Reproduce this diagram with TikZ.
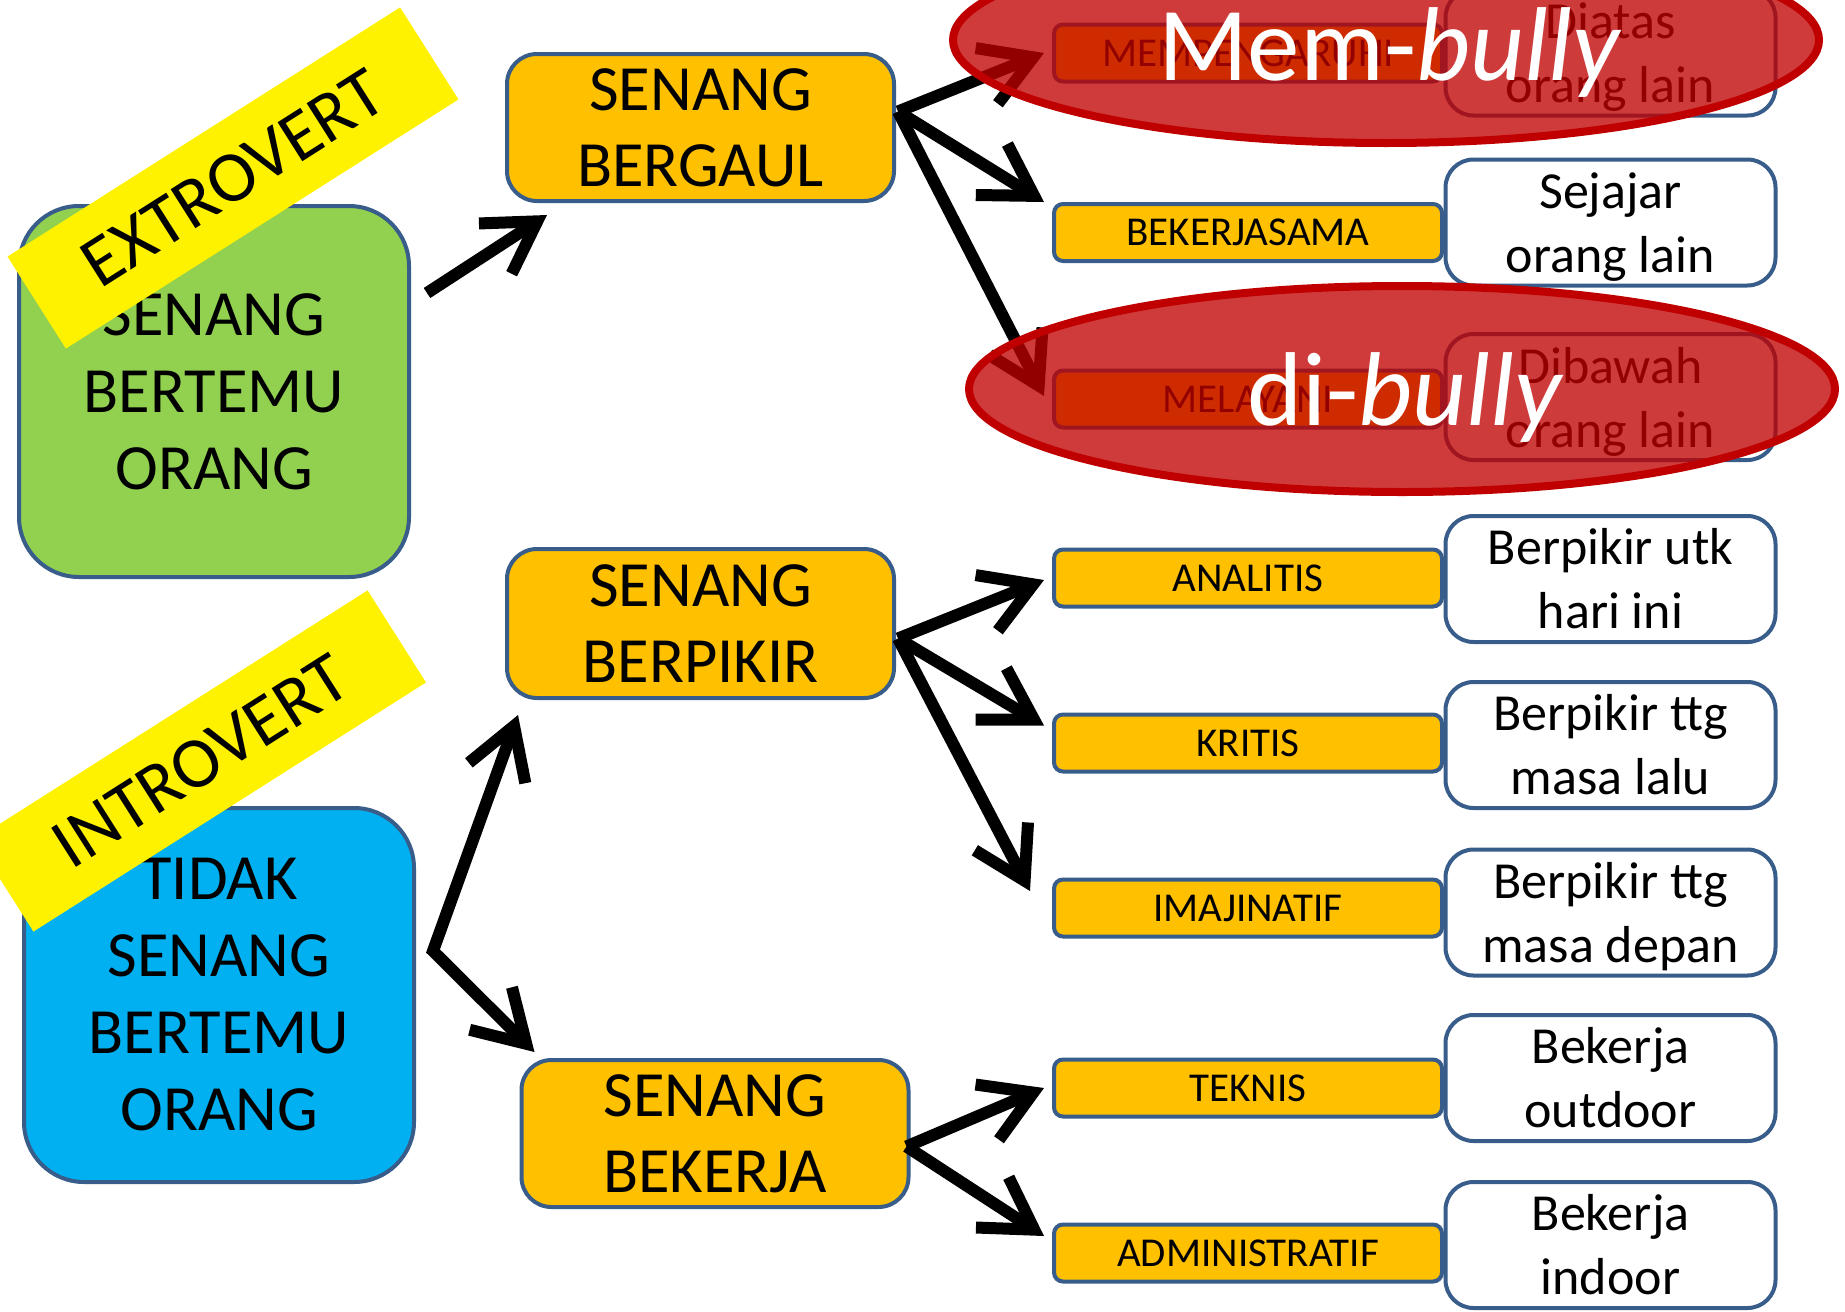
\documentclass[tikz,border=0pt]{standalone}
\usepackage{fontspec}
\setmainfont{Carlito}
\usetikzlibrary{arrows.meta,shapes.geometric,calc}
\definecolor{bord}{HTML}{385D8A}
\definecolor{gold}{HTML}{FFC000}
\definecolor{lgreen}{HTML}{92D050}
\definecolor{cyanb}{HTML}{00B0F0}
\definecolor{bred}{HTML}{C00000}
\begin{document}
\begin{tikzpicture}[x=1pt,y=-1pt,
  bigbox/.style={draw=bord,line width=4pt,rounded corners=60pt,minimum width=390pt,inner sep=0pt,align=center,font=\fontsize{64.5pt}{77pt}\selectfont},
  midbox/.style={draw=bord,fill=gold,line width=4pt,rounded corners=30pt,minimum width=387pt,minimum height=147pt,inner sep=0pt,align=center,font=\fontsize{64.5pt}{76pt}\selectfont},
  barbox/.style={draw=bord,fill=gold,line width=4pt,rounded corners=9pt,minimum width=388pt,minimum height=57pt,inner sep=0pt,font=\fontsize{41pt}{49pt}\selectfont},
  wbox/.style={draw=bord,fill=white,line width=4pt,rounded corners=28pt,minimum width=330pt,minimum height=126pt,inner sep=0pt,align=center,font=\fontsize{52pt}{64pt}\selectfont},
  banner/.style={fill=yellow,minimum width=465pt,minimum height=109pt,rotate=32.4,inner sep=0pt,font=\fontsize{72pt}{80pt}\selectfont},
  arr/.style={line width=12pt,-{Straight Barb[length=50pt,width=60pt]}},
  arrtwo/.style={line width=12pt,{Straight Barb[length=50pt,width=60pt]}-{Straight Barb[length=50pt,width=60pt]}},
  bully/.style={ellipse,draw=bred,line width=8pt,fill=bred,fill opacity=0.77,minimum width=866pt,minimum height=206pt,inner sep=0pt},
  bullytext/.style={text=white,anchor=base,inner sep=0pt,font=\fontsize{105pt}{120pt}\selectfont}]

\useasboundingbox (0,0) rectangle (1845,1312);

% left boxes
\node[bigbox,fill=lgreen,minimum height=371pt] (gr) at (214,391.5) {SENANG\\BERTEMU\\ORANG};
\node[bigbox,fill=cyanb,minimum height=374pt] (bl) at (219,995) {TIDAK\\SENANG\\BERTEMU\\ORANG};

% banners
\node[banner] (ext) at (233,178) {EXTROVERT};
\node[banner] (int) at (200.5,761) {INTROVERT};

% middle boxes
\node[midbox] (bg) at (700.5,127.5) {SENANG\\BERGAUL};
\node[midbox,minimum height=149pt] (bp) at (700.5,623.5) {SENANG\\BERPIKIR};
\node[midbox] (bk) at (715,1133.5) {SENANG\\BEKERJA};

% bars
\node[barbox] (mem) at (1248,53) {MEMPENGARUHI};
\node[barbox] (bks) at (1248,232.5) {BEKERJASAMA};
\node[barbox] (mel) at (1248,399) {MELAYANI};
\node[barbox] (ana) at (1248,578) {ANALITIS};
\node[barbox] (kri) at (1248,743) {KRITIS};
\node[barbox] (ima) at (1248,908) {IMAJINATIF};
\node[barbox] (tek) at (1248,1088) {TEKNIS};
\node[barbox] (adm) at (1248,1253) {ADMINISTRATIF};

% white boxes
\node[wbox] (w1) at (1610.5,52.5) {Diatas\\\smash{orang lain}};
\node[wbox] (w2) at (1610.5,222.5) {Sejajar\\\smash{orang lain}};
\node[wbox] (w3) at (1610.5,397) {Dibawah\\\smash{orang lain}};
\node[wbox] (w4) at (1610.5,579) {Berpikir utk\\hari ini};
\node[wbox] (w5) at (1610.5,745) {Berpikir ttg\\masa lalu};
\node[wbox] (w6) at (1610.5,912.5) {Berpikir ttg\\\smash{masa depan}};
\node[wbox] (w7) at (1610.5,1078) {Bekerja\\outdoor};
\node[wbox] (w8) at (1610.5,1245) {Bekerja\\indoor};

% arrows
\draw[arr] ($(gr.north east)+(16,89)$) -- ($(bg.south west)+(42,12)$);
\draw[arr] ($(bg.east)+(2,-16)$) -- ($(mem.west)+(-8,0)$);
\draw[arr] ($(bg.east)+(2,-16)$) -- ($(bks.north west)+(-8,0)$);
\draw[arr] ($(bg.east)+(2,-16)$) -- ($(mel.west)+(-8,-3)$);
\draw[arr] ($(bp.east)+(2,15)$) -- ($(ana.west)+(-8,2)$);
\draw[arr] ($(bp.east)+(2,15)$) -- ($(kri.north west)+(-8,13)$);
\draw[arr] ($(bp.east)+(2,15)$) -- ($(ima.west)+(-22,-17)$);
\draw[arrtwo] ($(bp.south west)+(13,15)$) -- ($(bl.east)+(17,-44)$) -- ($(bk.north west)+(15,-6)$);
\draw[arr] ($(bk.east)+(-4,13)$) -- ($(tek.west)+(-8,0)$);
\draw[arr] ($(bk.east)+(-4,13)$) -- ($(adm.west)+(-8,-17)$);

% bully ellipses
\node[bully] (e1) at (1386,40) {};
\node[bully] (e2) at (1402,389) {};
\node[bullytext] (t1) at (1390,80) {Mem-\textit{bully}};
\node[bullytext] (t2) at (1406,425) {di-\textit{bully}};
\end{tikzpicture}
\end{document}
